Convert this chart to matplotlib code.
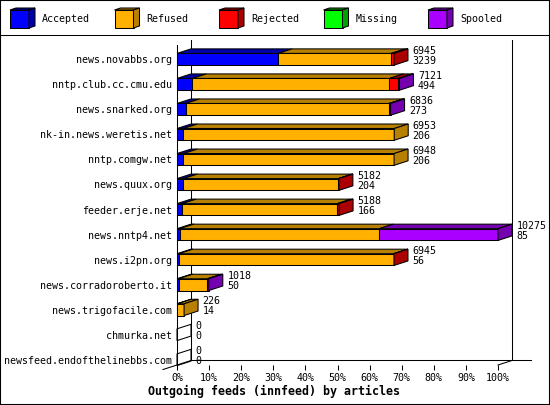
import matplotlib
matplotlib.use('Agg')
import matplotlib.pyplot as plt
from matplotlib.patches import Polygon, Rectangle
from matplotlib.lines import Line2D

plt.rcParams['font.family'] = ['DejaVu Sans Mono']

# data (articles per outgoing feed)
feeds = ['news.novabbs.org', 'nntp.club.cc.cmu.edu', 'news.snarked.org',
         'nk-in.news.weretis.net', 'nntp.comgw.net', 'news.quux.org',
         'feeder.erje.net', 'news.nntp4.net', 'news.i2pn.org',
         'news.corradoroberto.it', 'news.trigofacile.com', 'chmurka.net',
         'newsfeed.endofthelinebbs.com']
accepted = [3239, 494, 273, 206, 206, 204, 166, 85, 56, 50, 14, 0, 0]
refused = [3621, 6307, 6513, 6747, 6742, 4958, 4962, 6391, 6879, 920, 212, 0, 0]
rejected = [85, 280, 35, 0, 0, 20, 60, 0, 10, 0, 0, 0, 0]
missing = [0, 0, 0, 0, 0, 0, 0, 0, 0, 0, 0, 0, 0]
spooled = [0, 40, 15, 0, 0, 0, 0, 3799, 0, 48, 0, 0, 0]

series_names = ['Accepted', 'Refused', 'Rejected', 'Missing', 'Spooled']
series = [accepted, refused, rejected, missing, spooled]
front_col = ['#0000ff', '#ffb000', '#ff0000', '#00ff00', '#aa00ff']
dark_col = ['#0000a8', '#b88000', '#aa0000', '#00a000', '#7400b0']

totals = [sum(s[i] for s in series) for i in range(len(feeds))]
xmax = max(totals)

FS = 7.2
LW = 0.75

fig = plt.figure(figsize=(5.5, 4.05), dpi=100)
ax = fig.add_axes([177 / 550, 1 - 365 / 405, 321 / 550, 320 / 405])
ax.set_xlim(0, xmax)
y_bot, y_top = 12.21, -0.57
ax.set_ylim(y_bot, y_top)

# 3d depth
dx = xmax * 14 / 321
dy = 4.5 / 25
h = 0.47
lab_off = xmax * 4.5 / 321

# back walls / floor
ax.plot([dx, dx], [y_top - dy, y_bot - dy], color='black', lw=LW, clip_on=False, zorder=1)
ax.plot([xmax + dx, xmax + dx], [y_top - dy, y_bot - dy], color='black', lw=LW, clip_on=False, zorder=1)
ax.plot([dx, xmax + dx + xmax * 19 / 321], [y_bot - dy, y_bot - dy], color='black', lw=LW,
        clip_on=False, zorder=1)
ax.plot([-dx, dx], [y_bot + dy, y_bot - dy], color='black', lw=LW, clip_on=False, zorder=1)
ax.plot([xmax, xmax + dx], [y_bot, y_bot - dy], color='black', lw=LW, clip_on=False, zorder=1)

for i in range(len(feeds)):
    left = 0
    last = None
    top = i - h / 2
    for k, vals in enumerate(series):
        w = vals[i]
        if w == 0:
            continue
        bars = ax.barh(i, w, left=left, height=h, color=front_col[k], edgecolor='black',
                       linewidth=LW, zorder=3)
        for b in bars:
            b.set_clip_on(False)
        ax.add_patch(Polygon([(left, top), (left + w, top), (left + w + dx, top - dy),
                              (left + dx, top - dy)], closed=True, fc=dark_col[k],
                             ec='black', lw=LW, clip_on=False, zorder=3))
        left += w
        last = k
    ax.add_patch(Polygon([(left, top), (left + dx, top - dy), (left + dx, top + h - dy),
                          (left, top + h)], closed=True,
                         fc=dark_col[last] if last is not None else 'none',
                         ec='black', lw=LW, clip_on=False, zorder=3))
    ax.text(left + dx + lab_off, i - 0.34, str(totals[i]), fontsize=FS, va='center',
            ha='left', clip_on=False)
    ax.text(left + dx + lab_off, i + 0.07, str(accepted[i]), fontsize=FS, va='center',
            ha='left', clip_on=False)

for sp in ['top', 'right', 'bottom']:
    ax.spines[sp].set_visible(False)
ax.spines['left'].set_linewidth(LW)
ax.set_facecolor('none')

pcts = list(range(0, 101, 10))
ax.set_xticks([xmax * p / 100 for p in pcts])
ax.set_xticklabels([f'{p}%' for p in pcts])
ax.tick_params(axis='x', direction='out', length=3.6, width=LW, pad=2.2, labelsize=FS)
ax.set_yticks(range(len(feeds)))
ax.set_yticklabels(feeds)
ax.tick_params(axis='y', length=0, pad=3.6, labelsize=FS)

fig.text(274 / 550, 1 - 391 / 405, 'Outgoing feeds (innfeed) by articles', ha='center',
         va='center', fontsize=8.4, fontweight='bold')

# legend strip
lax = fig.add_axes([0, 1 - 34 / 405, 1, 34 / 405])
lax.set_xlim(0, 550)
lax.set_ylim(34, 0)
lax.axis('off')
for k, name in enumerate(series_names):
    x0 = 10 + k * 104.5
    lax.add_patch(Rectangle((x0, 10), 19, 18, fc=front_col[k], ec='black', lw=LW))
    lax.add_patch(Polygon([(x0, 10), (x0 + 19, 10), (x0 + 25, 8), (x0 + 6, 8)], closed=True,
                          fc=dark_col[k], ec='black', lw=LW))
    lax.add_patch(Polygon([(x0 + 19, 10), (x0 + 25, 8), (x0 + 25, 26), (x0 + 19, 28)],
                          closed=True, fc=dark_col[k], ec='black', lw=LW))
    lax.text(x0 + 32, 19.5, name, fontsize=FS, va='center', ha='left')

fig.add_artist(Line2D([0, 1], [1 - 34.5 / 405, 1 - 34.5 / 405], transform=fig.transFigure,
                      color='black', lw=LW))
fig.add_artist(Rectangle((0, 0), 1, 1, transform=fig.transFigure, fill=False,
                         ec='black', lw=1.5))

fig.savefig('out.png', dpi=100)
